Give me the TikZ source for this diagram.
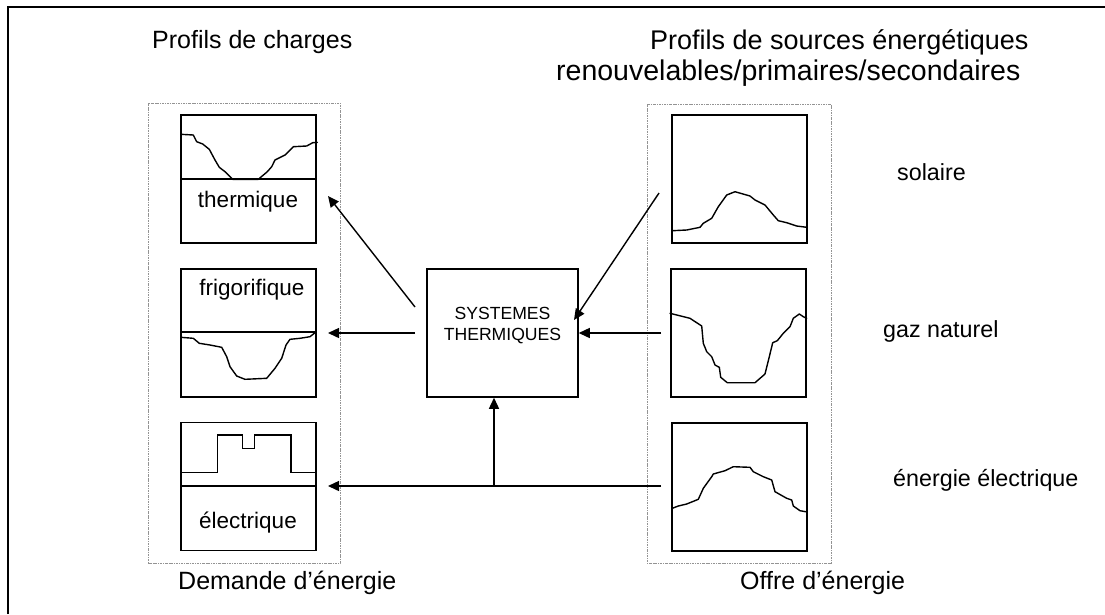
\documentclass[tikz,border=0pt]{standalone}
\usepackage{fontspec}
\setmainfont{Liberation Sans}
\usetikzlibrary{arrows.meta}
\begin{document}
\begin{tikzpicture}[x=1pt,y=-1pt,
  frameline/.style={line width=1.3pt},
  group/.style={draw=gray!85, line width=0.7pt, dash pattern=on 2.5pt off 1pt on 0.8pt off 1pt},
  pbox/.style={draw, line width=1.5pt, minimum width=135pt, minimum height=128pt, inner sep=0pt},
  sysbox/.style={draw, line width=1.5pt, minimum width=151pt, minimum height=128pt, inner sep=0pt},
  systext/.style={inner sep=0pt, align=center, font=\fontsize{17.6}{21}\selectfont},
  divider/.style={line width=1.4pt},
  curve/.style={line width=1.4pt, line join=round, line cap=round},
  arr/.style={line width=1.4pt, -{Triangle[length=11pt,width=10pt]}},
  title/.style={inner sep=0pt, anchor=west},
  lab/.style={inner sep=0pt, font=\fontsize{22.5}{26}\selectfont},
  side/.style={inner sep=0pt, anchor=west, font=\fontsize{23.3}{27}\selectfont},
]
\useasboundingbox (0,0) rectangle (1105,614);
% outer frame
\draw[frameline] (8,614) -- (8,7) -- (1105,7);

% titles
\node[title, font=\fontsize{25}{28}\selectfont] (t1) at (152,42) {Profils de charges};
\node[title, font=\fontsize{27}{30}\selectfont] (t2) at (650,42) {Profils de sources énergétiques};
\node[title, font=\fontsize{28.5}{30}\selectfont] (t3) at (556,73) {renouvelables/primaires/secondaires};
\node[title, font=\fontsize{25}{28}\selectfont] (t4) at (178,583) {Demande d’énergie};
\node[title, font=\fontsize{25}{28}\selectfont] (t5) at (740,583) {Offre d’énergie};

% group frames
\draw[group] (148,103) rectangle (340,563);
\draw[group] (647,104) rectangle (831,563);

% left boxes
\node[pbox] (th) at (248.5,179) {};
\node[pbox] (fr) at (248.5,333) {};
\node[pbox] (el) at (248.5,486.5) {};
\draw[divider] (th.west) -- (th.east);
\draw[divider] (fr.west |- 0,332) -- (fr.east |- 0,332);
\draw[divider] (el.west |- 0,486) -- (el.east |- 0,486);
\node[lab] (thl) at (248,202) {thermique};
\node[lab] (frl) at (252,290) {frigorifique};
\node[lab] (ell) at (248,523) {électrique};

% right boxes
\node[pbox] (so) at (739.5,179) {};
\node[pbox] (ga) at (738.5,333) {};
\node[pbox] (er) at (739.5,487) {};
\node[side] (sol) at (897,172) {solaire};
\node[side] (gal) at (883,331) {gaz naturel};
\node[side] (erl) at (893,480) {énergie électrique};

% central box
\node[sysbox] (sys) at (502.5,333) {};
\node[systext] (syst) at (502.5,326) {SYSTEMES\\[0pt]THERMIQUES};

% curves
\draw[curve] (180.7,134.3) -- (193.3,135) -- (196.7,141.7) -- (202.7,144) -- (209.3,149.3) -- (215,160) -- (219.3,167.3) -- (225,171.7) -- (232.7,179.3) -- (258.3,179.3) -- (267.3,171.7) -- (271.7,166.7) -- (275,160) -- (285,155) -- (293.3,146.7) -- (306.7,146) -- (312.7,142.7) -- (317.3,142.3);
\draw[curve] (180.7,337.3) -- (193.3,338.3) -- (199.3,343.3) -- (210,345) -- (221.7,347.3) -- (226.7,356.7) -- (230,366.7) -- (236.7,376) -- (245,379.3) -- (266.7,378.3) -- (275,368.3) -- (281.7,358.3) -- (286,345) -- (290,339.3) -- (300,338.3) -- (310,336.7) -- (315,332.7);
\draw[curve, line cap=butt, line join=miter] (180.7,472.7) -- (217.7,472.7) -- (217.7,435) -- (242.3,435) -- (242.3,448.3) -- (254.3,448.3) -- (254.3,435) -- (291,435) -- (291,472.7) -- (316,472.7);
\draw[curve] (672.3,230.7) -- (686.7,230) -- (700,227.3) -- (703.3,223.3) -- (711.7,218.3) -- (718.3,206.7) -- (726.7,195) -- (735,191.7) -- (750,196) -- (755,200) -- (765,205) -- (773.3,215) -- (778.3,220.7) -- (786.7,222.7) -- (796.7,226) -- (806.7,227.3);
\draw[curve] (670,313.3) -- (690,318.3) -- (701.7,326) -- (703.3,343.3) -- (706.7,351.7) -- (711.7,356.7) -- (715,365) -- (719.3,367.3) -- (720.7,377.3) -- (727.3,382.7) -- (755,382.7) -- (765,374) -- (769.3,356.7) -- (772.7,342.7) -- (777.3,340.7) -- (783.3,333.3) -- (790,326.7) -- (793.3,318.3) -- (799.3,314) -- (803.3,316.7) -- (806.7,318.3);
\draw[curve] (672.3,508.3) -- (678.3,506) -- (686.7,504) -- (698.3,499.3) -- (703.3,488.3) -- (711.7,476.7) -- (713.3,474) -- (725,470.7) -- (733.3,466.7) -- (750,467.3) -- (753.3,471.7) -- (763.3,476.7) -- (771.7,480) -- (775,491.7) -- (786.7,498.3) -- (791.7,500) -- (793.3,506) -- (800,510.7) -- (805.7,511.7);

% connectors
\coordinate (a1s) at (415,307);
\coordinate (a1e) at (328,196);
\coordinate (a2s) at (415,333);
\coordinate (a2e) at (328,333);
\coordinate (a3s) at (659,193);
\coordinate (a3e) at (574,320);
\coordinate (a4s) at (661,333);
\coordinate (a5s) at (661,486);
\coordinate (a5e) at (328,486);
\coordinate (jn) at (494,486);
\draw[arr] (a1s) -- (a1e);
\draw[arr] (a2s) -- (a2e);
\draw[arr] (a3s) -- (a3e);
\draw[arr] (a4s) -- (sys.east);
\draw[arr] (a5s) -- (a5e);
\draw[arr] (jn) -- (jn |- sys.south);
\end{tikzpicture}
\end{document}
